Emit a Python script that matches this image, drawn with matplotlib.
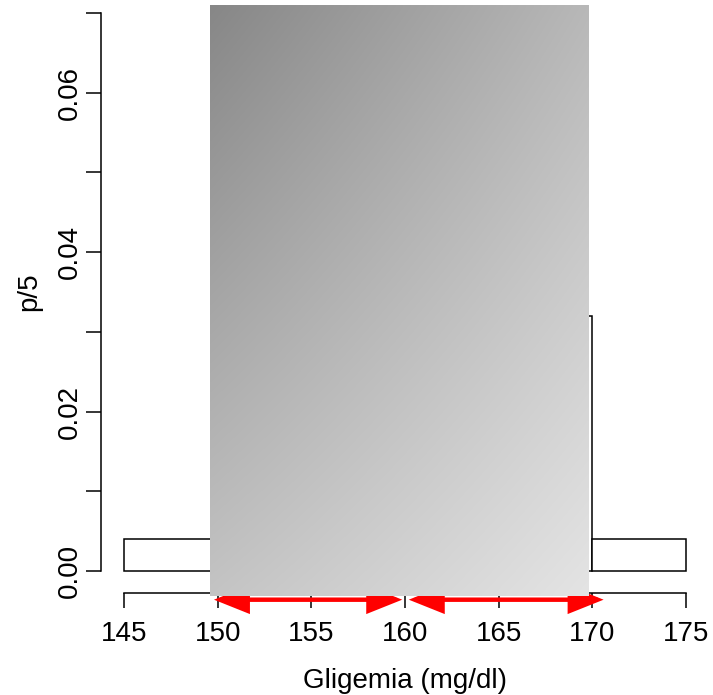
import numpy as np
from matplotlib import pyplot as plt
from matplotlib.patches import Rectangle

plt.rcParams['font.family'] = ['Liberation Sans', 'DejaVu Sans']

# histogram (density scale, unequal bins)
bin_edges = [145, 150, 160, 170, 175]
density = [0.004, 0.064, 0.032, 0.004]

# arrows under the shaded band
arrow_from = [149.8, 160.2]
arrow_to = [159.85, 170.6]
arrow_y = -0.0036

# shaded band
band_x = (149.6, 169.83)
band_y = (-0.0031, 0.071)

xticks = [145, 150, 155, 160, 165, 170, 175]
yticks = [0.00, 0.01, 0.02, 0.03, 0.04, 0.05, 0.06, 0.07]
ylabels = ['0.00', '', '0.02', '', '0.04', '', '0.06', '']

fig = plt.figure(figsize=(7.13, 6.95), dpi=100)
ax = fig.add_axes([101/713, 102/695, 607.5/713, 593/695])

for i in range(len(density)):
    x0, x1 = bin_edges[i], bin_edges[i+1]
    ax.add_patch(Rectangle((x0, 0), x1-x0, density[i], facecolor='white',
                           edgecolor='black', linewidth=1.1, zorder=1))

for a, b in zip(arrow_from, arrow_to):
    ax.annotate('', xy=(a, arrow_y), xytext=(b, arrow_y),
                arrowprops=dict(arrowstyle='<|-|>,head_length=2.0,head_width=0.8',
                                color='red', lw=3.2, shrinkA=0, shrinkB=0,
                                joinstyle='miter', capstyle='butt'),
                annotation_clip=False, zorder=2)

# bilinear grey gradient: dark top-left, light bottom-right
u = np.linspace(0, 1, 200)
w = np.linspace(0, 1, 200)
U, W = np.meshgrid(u, w)
v = (135 + 49*U + 61*W - 17*U*W) / 255.0
img = np.dstack([v, v, v])
ax.imshow(img, extent=[band_x[0], band_x[1], band_y[0], band_y[1]],
          origin='upper', aspect='auto', zorder=3, clip_on=False,
          interpolation='bilinear')

ax.set_xlim(143.77, 176.2)
ax.set_ylim(-0.00276, 0.07163)

for s in ['top', 'right']:
    ax.spines[s].set_visible(False)
ax.spines['left'].set_bounds(0, 0.07)
ax.spines['bottom'].set_bounds(145, 175)
ax.spines['left'].set_linewidth(1.1)
ax.spines['bottom'].set_linewidth(1.1)

ax.set_xticks(xticks)
ax.set_xticklabels([str(t) for t in xticks])
ax.set_yticks(yticks)
ax.set_yticklabels(ylabels, rotation=90, va='center')
ax.tick_params(axis='both', labelsize=20, length=11, width=1.1)
ax.tick_params(axis='x', pad=9)
ax.tick_params(axis='y', pad=2)

ax.set_xlabel('Gligemia (mg/dl)', fontsize=20, labelpad=15)
ax.set_ylabel('p/5', fontsize=20)
ax.yaxis.set_label_coords(-0.096, (593 - 292) / 593)

plt.savefig('out.png', dpi=100)
